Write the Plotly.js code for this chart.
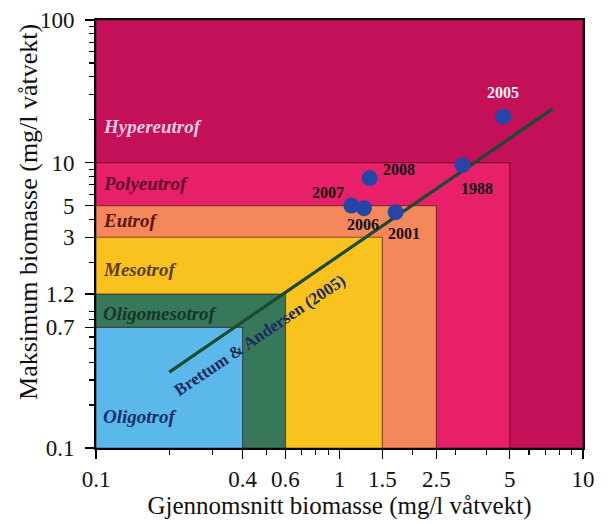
<!DOCTYPE html>
<html>
<head>
<meta charset="utf-8">
<script src="https://cdn.plot.ly/plotly-3.0.1.min.js"></script>
<style>html,body{margin:0;padding:0;background:#fff;}</style>
</head>
<body>
<div id="chart" style="width:610px;height:524px;"></div>
<script>
// Trophic zones (rectangles from 0.1,0.1 to maxX,maxY)
const zoneNames = ['Hypereutrof', 'Polyeutrof', 'Eutrof', 'Mesotrof', 'Oligomesotrof', 'Oligotrof'];
const zoneMaxX = [10, 5, 2.5, 1.5, 0.6, 0.4];
const zoneMaxY = [100, 10, 5, 3, 1.2, 0.7];
const zoneMin = 0.1;
const zoneColors = ['#c31058', '#e81f69', '#f5885b', '#fac21f', '#37785a', '#5ab8ea'];
const zoneLabelColors = ['#f6cde0', '#5e0628', '#5a1606', '#5c3e0c', '#163628', '#17306a'];
const zoneLabelY = [17.8, 7.2, 3.95, 1.77, 0.88, 0.165];

// Observations
const years = ['2005', '1988', '2008', '2007', '2006', '2001'];
const meanBiomass = [4.7, 3.2, 1.33, 1.12, 1.26, 1.7];
const maxBiomass = [21, 9.6, 7.8, 5.0, 4.8, 4.5];

// Brettum & Andersen (2005) reference line
const refX = [0.2, 7.5];
const refY = [0.34, 23.8];

// Tick labels
const xTicks = [0.1, 0.4, 0.6, 1, 1.5, 2.5, 5, 10];
const yTicks = [0.1, 0.7, 1.2, 3, 5, 10, 100];
const xMinor = [0.2, 0.3, 0.5, 0.7, 0.8, 0.9, 2, 3, 4, 6, 7, 8, 9];
const yMinor = [0.2, 0.3, 0.4, 0.5, 0.6, 0.8, 0.9, 2, 4, 6, 7, 8, 9, 20, 30, 40, 50, 60, 70, 80, 90];

const serif = 'Liberation Serif, Times New Roman, serif';
const traces = [];
zoneNames.forEach((n, i) => {
  traces.push({
    type: 'scatter', mode: 'lines', fill: 'toself',
    x: [zoneMin, zoneMaxX[i], zoneMaxX[i], zoneMin, zoneMin],
    y: [zoneMin, zoneMin, zoneMaxY[i], zoneMaxY[i], zoneMin],
    fillcolor: zoneColors[i],
    line: {color: 'rgba(40,10,20,0.55)', width: 1.2},
    hoverinfo: 'skip', showlegend: false
  });
});
traces.push({
  type: 'scatter', mode: 'lines', x: refX, y: refY,
  line: {color: '#1b4a33', width: 3.2}, hoverinfo: 'skip', showlegend: false
});
traces.push({
  type: 'scatter', mode: 'markers', x: meanBiomass, y: maxBiomass,
  marker: {color: '#2446a6', size: 16}, hoverinfo: 'skip', showlegend: false
});

const annotations = [];
zoneNames.forEach((n, i) => {
  annotations.push({
    xref: 'x', yref: 'y', x: Math.log10(0.105), y: Math.log10(zoneLabelY[i]),
    text: n, showarrow: false, xanchor: 'left', yanchor: 'middle',
    font: {family: serif, size: 19, color: zoneLabelColors[i], style: 'italic', weight: 'bold'}
  });
});
const labelShift = {
  '2005': [0, 24], '1988': [14, -23], '2008': [29, 9],
  '2007': [-23, 13], '2006': [-1, -16], '2001': [8, -21]
};
years.forEach((yr, i) => {
  annotations.push({
    xref: 'x', yref: 'y', x: Math.log10(meanBiomass[i]), y: Math.log10(maxBiomass[i]),
    xshift: labelShift[yr][0], yshift: labelShift[yr][1],
    text: yr, showarrow: false,
    font: {family: serif, size: 16, weight: 'bold', color: yr === '2005' ? '#fff4f8' : '#111111'}
  });
});
annotations.push({
  xref: 'x', yref: 'y', x: Math.log10(0.47), y: Math.log10(0.61),
  text: 'Brettum &amp; Andersen (2005)', showarrow: false, textangle: -34,
  font: {family: serif, size: 17, weight: 'bold', color: '#1b2b5e'}
});
// y-axis title (placed as in the original, slightly above the plot centre)
annotations.push({
  xref: 'paper', yref: 'paper', x: -0.14, y: 0.551, xanchor: 'center', yanchor: 'middle',
  text: 'Maksimum biomasse (mg/l våtvekt)', showarrow: false, textangle: -90,
  font: {family: serif, size: 26, color: '#111'}
});

const axisCommon = {
  type: 'log', showgrid: false, zeroline: false,
  showline: true, linecolor: '#000', linewidth: 2, mirror: true,
  ticks: 'outside', ticklen: 9, tickwidth: 1.5, tickcolor: '#000',
  tickfont: {family: serif, size: 23, color: '#111'}
};
const layout = {
  width: 610, height: 524,
  margin: {l: 96, r: 27, t: 20, b: 76},
  paper_bgcolor: '#fff', plot_bgcolor: '#c31058',
  showlegend: false,
  xaxis: Object.assign({}, axisCommon, {
    range: [-1, 1], tickmode: 'array', tickvals: xTicks, ticktext: xTicks.map(String),
    minor: {tickmode: 'array', tickvals: xMinor, ticks: 'outside', ticklen: 5, tickcolor: '#000', tickwidth: 1.2, showgrid: false},
    title: {text: 'Gjennomsnitt biomasse (mg/l våtvekt)', standoff: 6, font: {family: serif, size: 25, color: '#111'}}
  }),
  yaxis: Object.assign({}, axisCommon, {
    range: [-1, 2], tickmode: 'array', tickvals: yTicks, ticktext: yTicks.map(String),
    ticklabelstandoff: 6,
    minor: {tickmode: 'array', tickvals: yMinor, ticks: 'outside', ticklen: 5, tickcolor: '#000', tickwidth: 1.2, showgrid: false}
  }),
  annotations: annotations
};
Plotly.newPlot('chart', traces, layout, {displayModeBar: false, staticPlot: true});
</script>
</body>
</html>
